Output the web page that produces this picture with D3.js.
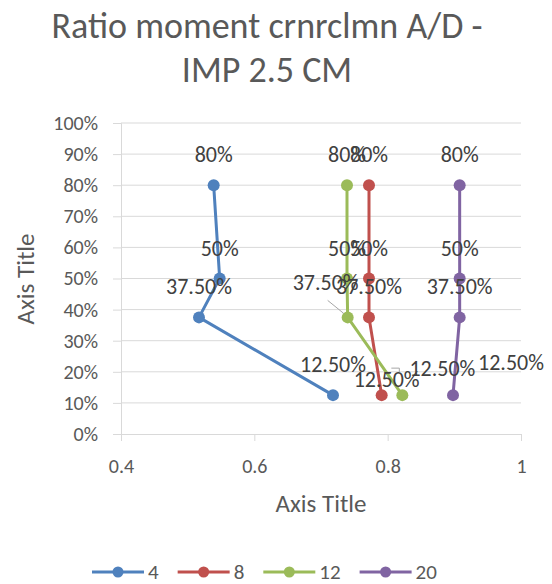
<!DOCTYPE html>
<meta charset="utf-8">
<script src="https://cdn.jsdelivr.net/npm/d3@7"></script>
<style>
  body { margin: 0; background: #fff; }
  text { font-family: Carlito, Calibri, Lato, sans-serif; }
</style>
<body>
<script>

// data
var levels = [0.8, 0.5, 0.375, 0.125];
var seriesNames = ["4", "8", "12", "20"];
var ratio4  = [0.539, 0.548, 0.517, 0.718];
var ratio8  = [0.772, 0.772, 0.772, 0.791];
var ratio12 = [0.739, 0.739, 0.740, 0.822];
var ratio20 = [0.908, 0.908, 0.908, 0.898];
var xTicks = [0.4, 0.6, 0.8, 1];
var yTicks = [0, 0.1, 0.2, 0.3, 0.4, 0.5, 0.6, 0.7, 0.8, 0.9, 1];

var colors = ["#4F81BD", "#C0504D", "#9BBB59", "#8064A2"];
var allSeries = [ratio4, ratio8, ratio12, ratio20].map(function(vals, i) {
  return {name: seriesNames[i], color: colors[i],
    points: vals.map(function(v, j) { return {x: v, y: levels[j], s: i, j: j}; })};
});

// labels Excel pushed aside: [series, point] -> [dx, dy] from the default spot
var nudge = {"2-2": [-22, -4], "1-3": [5, 15], "2-3": [40, 4], "3-3": [58, -2]};

var W = 552, H = 584;
var svg = d3.select("body").append("svg").attr("width", W).attr("height", H);

var x = d3.scaleLinear().domain([0.4, 1]).range([121, 521]);
var y = d3.scaleLinear().domain([0, 1]).range([434, 123]);

// title
svg.append("text").attr("x", 267).attr("y", 38).attr("text-anchor", "middle")
  .style("font-size", "36px").style("fill", "#595959").text("Ratio moment crnrclmn A/D -");
svg.append("text").attr("x", 267).attr("y", 82).attr("text-anchor", "middle")
  .style("font-size", "36px").style("fill", "#595959").text("IMP 2.5 CM");

// gridlines
svg.append("g").selectAll("line").data(yTicks.slice(1)).enter().append("line")
  .attr("x1", x(0.4)).attr("x2", x(1)).attr("y1", function(d) { return y(d); }).attr("y2", function(d) { return y(d); })
  .style("stroke", "#d9d9d9").style("stroke-width", 1);

// axes
var yAxis = svg.append("g").attr("transform", "translate(" + x(0.4) + ",0)")
  .call(d3.axisLeft(y).tickValues(yTicks).tickFormat(d3.format(".0%")).tickSize(8).tickPadding(15));
var xAxis = svg.append("g").attr("transform", "translate(0," + y(0) + ")")
  .call(d3.axisBottom(x).tickValues(xTicks).tickFormat(d3.format("")).tickSize(7).tickPadding(18));
[xAxis, yAxis].forEach(function(a) {
  a.select(".domain").style("stroke", "#d9d9d9");
  a.selectAll(".tick line").style("stroke", "#d9d9d9");
  a.selectAll(".tick text").style("font-size", "20px").style("fill", "#595959")
    .style("font-family", "Carlito, Calibri, Lato, sans-serif");
});

// axis titles
svg.append("text").attr("x", 321).attr("y", 512).attr("text-anchor", "middle")
  .style("font-size", "25px").style("fill", "#595959").text("Axis Title");
svg.append("text").attr("transform", "translate(34,279) rotate(-90)").attr("text-anchor", "middle")
  .style("font-size", "25px").style("fill", "#595959").text("Axis Title");

// lines and markers
var line = d3.line().x(function(d) { return x(d.x); }).y(function(d) { return y(d.y); });
var grp = svg.append("g").selectAll("g").data(allSeries).enter().append("g");
grp.append("path").attr("d", function(d) { return line(d.points); })
  .style("fill", "none").style("stroke", function(d) { return d.color; }).style("stroke-width", 3);
grp.selectAll("circle").data(function(d) { return d.points; }).enter().append("circle")
  .attr("cx", function(d) { return x(d.x); }).attr("cy", function(d) { return y(d.y); }).attr("r", 6)
  .style("fill", function(d) { return colors[d.s]; });

// data labels
var pct = function(v) { return (v * 100) % 1 === 0 ? d3.format(".0%")(v) : d3.format(".2%")(v); };
var pts = d3.merge(allSeries.map(function(s) { return s.points; }));
pts.forEach(function(p) {
  var n = nudge[p.s + "-" + p.j] || [0, 0];
  p.lx = x(p.x) + n[0];
  p.ly = y(p.y) - 23 + n[1];
});

// leader lines for the moved green labels
var g37 = pts.filter(function(p) { return p.s === 2 && p.j === 2; })[0];
svg.append("line").attr("x1", g37.lx + 2).attr("y1", g37.ly + 10)
  .attr("x2", x(g37.x) - 4).attr("y2", y(g37.y) - 4).style("stroke", "#a6a6a6").style("stroke-width", 1);
var g12 = pts.filter(function(p) { return p.s === 2 && p.j === 3; })[0];
svg.append("path").attr("d", "M" + (g12.lx - 51) + "," + (g12.ly - 8) + "h8v4")
  .style("fill", "none").style("stroke", "#a6a6a6").style("stroke-width", 1);

svg.append("g").selectAll("text").data(pts).enter().append("text")
  .attr("x", function(d) { return d.lx; }).attr("y", function(d) { return d.ly; })
  .attr("text-anchor", "middle").style("font-size", "22px").style("fill", "#404040")
  .text(function(d) { return pct(d.y); });

// legend
var legend = svg.append("g");
var lx = 92;
allSeries.forEach(function(s) {
  var item = legend.append("g").attr("transform", "translate(" + lx + ",572)");
  item.append("line").attr("x1", 0).attr("x2", 52).style("stroke", s.color).style("stroke-width", 3);
  item.append("circle").attr("cx", 26).attr("r", 5.5).style("fill", s.color);
  var t = item.append("text").attr("x", 56).attr("y", 7).style("font-size", "21px").style("fill", "#595959").text(s.name);
  lx += 56 + t.node().getComputedTextLength() + 19;
});

</script>
</body>
</html>
